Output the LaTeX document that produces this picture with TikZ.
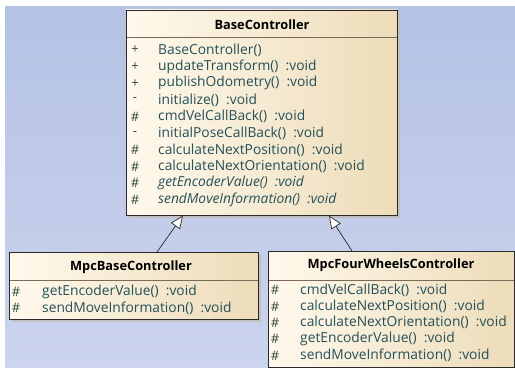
\documentclass[tikz,border=0pt]{standalone}
\usepackage{fontspec}
\setmainfont{Open Sans}
\usetikzlibrary{arrows.meta}
\definecolor{bgtop}{HTML}{B5C2E4}
\definecolor{bgbot}{HTML}{CCD4EE}
\definecolor{boxl}{HTML}{FFF9EC}
\definecolor{boxr}{HTML}{EDDCB9}
\definecolor{mtext}{HTML}{24505A}
\definecolor{mark}{HTML}{2E4A3A}
\definecolor{edge}{HTML}{2A2A2A}
\definecolor{sepc}{HTML}{7A6A58}
\tikzset{
  umlbox/.style={draw=edge, line width=0.9pt, left color=boxl, right color=boxr, inner sep=0pt},
  shadowbox/.style={fill=black!25, draw=none},
  ttl/.style={font=\fontsize{12.8}{14}\selectfont\bfseries, text=black, inner sep=0pt, anchor=center},
  mem/.style={font=\fontsize{13.8}{15}\selectfont, text=mtext, inner sep=0pt, anchor=west},
  vis/.style={font=\fontsize{13}{14}\selectfont, text=mark, inner sep=0pt, anchor=center},
  sepline/.style={draw=sepc, line width=1pt},
  inh/.style={draw=edge, line width=0.7pt, -{Triangle[length=13pt,width=11pt,fill=white]}},
}
\begin{document}
\begin{tikzpicture}[x=1pt,y=-1pt]
\useasboundingbox (0,0) rectangle (515,369);
\fill[white] (0,0) rectangle (515,369);
\shade[top color=bgtop, bottom color=bgbot] (5,7) rectangle (515,367);
% shadows
\fill[shadowbox] (129,13) rectangle (400,218);
\fill[shadowbox] (12,255) rectangle (261,322);
% BaseController
\node[umlbox, minimum width=271pt, minimum height=205pt] (bc) at (261.5,112.5) {};
\draw[sepline] (126.5,38) -- (396.5,38);
\node[ttl] (bct) at (262,25) {BaseController};
\foreach \v/\t [count=\i from 0] in {
  +/{BaseController()},
  +/{updateTransform()\ \ :void},
  +/{publishOdometry()\ \ :void},
  -/{initialize()\ \ :void},
  \#/{cmdVelCallBack()\ \ :void},
  -/{initialPoseCallBack()\ \ :void},
  \#/{calculateNextPosition()\ \ :void},
  \#/{calculateNextOrientation()\ \ :void},
  \#/{\itshape getEncoderValue()\ \ :void},
  \#/{\itshape sendMoveInformation()\ \ :void}}{
  \node[vis] (bcv\i) at (135,50+16.67*\i) {\v};
  \node[mem] (bcm\i) at (158,50+16.67*\i) {\t};
}
% MpcBaseController
\node[umlbox, minimum width=249pt, minimum height=67pt] (mb) at (133.5,285.5) {};
\draw[sepline] (9.5,280) -- (257.5,280);
\node[ttl] (mbt) at (131,267) {MpcBaseController};
\foreach \v/\t [count=\i from 0] in {
  \#/{getEncoderValue()\ \ :void},
  \#/{sendMoveInformation()\ \ :void}}{
  \node[vis] (mbv\i) at (16,292+16*\i) {\v};
  \node[mem] (mbm\i) at (42,292+16*\i) {\t};
}
% MpcFourWheelsController
\node[umlbox, minimum width=246pt, minimum height=116pt] (mf) at (391,309) {};
\draw[sepline] (268.5,280) -- (513.5,280);
\node[ttl] (mft) at (391,265) {MpcFourWheelsController};
\foreach \v/\t [count=\i from 0] in {
  \#/{cmdVelCallBack()\ \ :void},
  \#/{calculateNextPosition()\ \ :void},
  \#/{calculateNextOrientation()\ \ :void},
  \#/{getEncoderValue()\ \ :void},
  \#/{sendMoveInformation()\ \ :void}}{
  \node[vis] (mfv\i) at (275,290+16.4*\i) {\v};
  \node[mem] (mfm\i) at (300,290+16.4*\i) {\t};
}
% inheritance
\coordinate (l1) at (157,252);
\coordinate (l2) at (183,215.5);
\coordinate (r1) at (352,251);
\coordinate (r2) at (329,215.5);
\draw[inh] (l1) -- (l2);
\draw[inh] (r1) -- (r2);
\end{tikzpicture}
\end{document}
